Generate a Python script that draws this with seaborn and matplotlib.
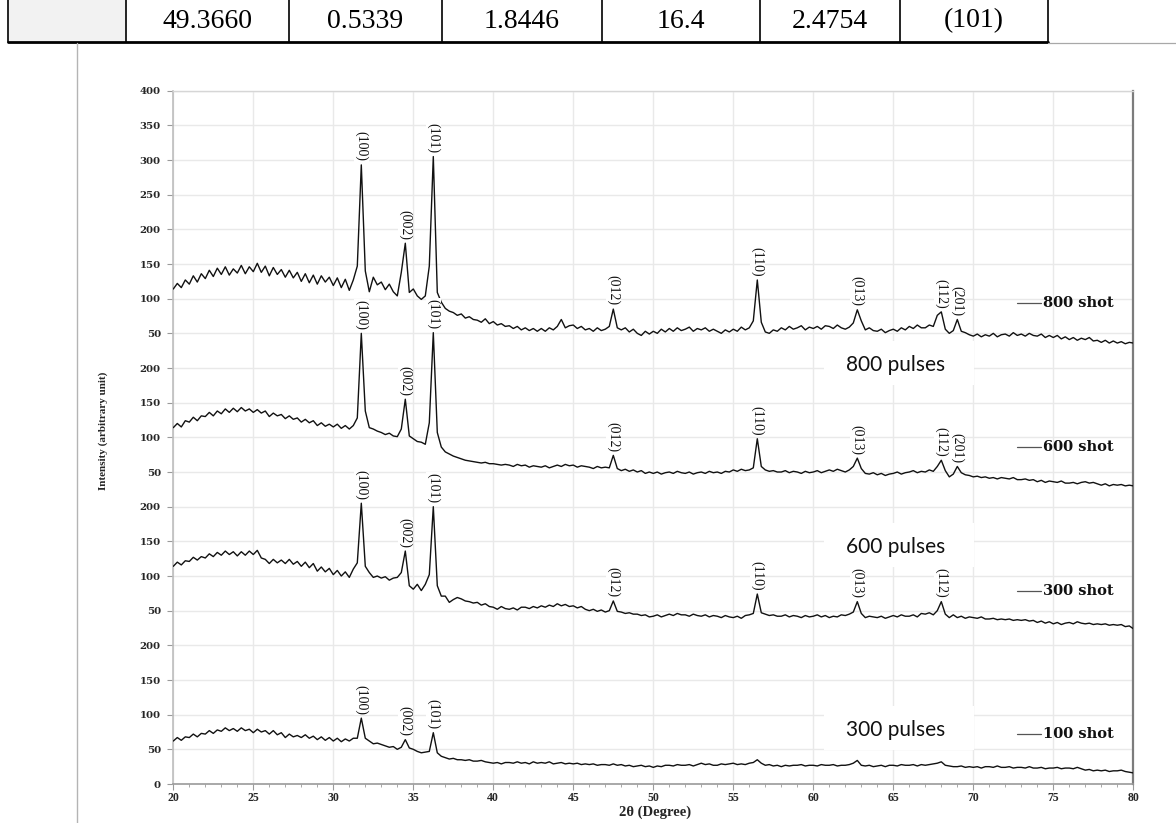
import numpy as np
import pandas as pd
import matplotlib
matplotlib.use("Agg")
import matplotlib.pyplot as plt
import seaborn as sns
from matplotlib.patches import Rectangle
from matplotlib.lines import Line2D

# ---------------------------------------------------------------- data
# 2-theta sampling of the diffractograms (0.25 degree step)
two_theta = np.linspace(20, 80, 241)

# Intensity (arbitrary unit) of each sample, one row per degree (.00 .25 .50 .75)
int_800 = [
    114, 122, 116, 127,  121, 133, 124, 136,  129, 141, 132, 144,  135, 146, 134, 143,
    137, 148, 136, 146,  139, 151, 138, 147,  133, 145, 135, 142,  131, 141, 130, 138,
    125, 136, 123, 134,  121, 133, 124, 131,  119, 130, 116, 128,  112, 127, 147, 293,
    140, 110, 131, 120,  124, 113, 121, 110,  104, 138, 180, 109,  114, 104, 99, 104,
    147, 305, 109, 95,   86, 82, 80, 76,     78, 72, 74, 70,      69, 66, 71, 64,
    67, 62, 64, 60,      61, 57, 60, 55,     58, 54, 57, 53,      57, 53, 58, 55,
    60, 70, 58, 61,      62, 57, 60, 55,     57, 53, 58, 54,      56, 60, 85, 58,
    55, 58, 52, 56,      50, 47, 53, 49,     53, 50, 56, 52,      57, 53, 58, 54,
    56, 59, 53, 57,      55, 58, 53, 56,     53, 50, 55, 52,      56, 53, 59, 55,
    58, 68, 127, 66,     52, 50, 55, 53,     58, 55, 60, 56,      58, 61, 55, 59,
    57, 60, 56, 61,      60, 57, 62, 58,     56, 59, 65, 84,      68, 55, 58, 54,
    53, 56, 51, 54,      56, 53, 58, 55,     60, 57, 62, 58,      58, 62, 60, 76,
    81, 56, 50, 54,      70, 53, 51, 48,     46, 49, 45, 48,      46, 50, 45, 48,
    49, 46, 51, 47,      49, 46, 50, 47,     46, 49, 44, 47,      44, 47, 42, 45,
    41, 44, 40, 43,      41, 44, 39, 40,     37, 40, 36, 39,      36, 38, 35, 37,
    36,
]

int_600 = [
    114, 120, 115, 124,  122, 129, 124, 131,  130, 136, 131, 138,  134, 141, 136, 142,
    137, 143, 138, 141,  136, 140, 135, 138,  130, 135, 131, 133,  127, 131, 126, 128,
    122, 126, 121, 124,  117, 121, 116, 119,  115, 119, 113, 117,  112, 117, 128, 250,
    138, 114, 112, 109,  107, 104, 106, 102,  101, 112, 155, 102,  98, 94, 93, 90,
    121, 251, 107, 86,   79, 76, 73, 71,     69, 67, 66, 65,      64, 63, 64, 62,
    62, 61, 60, 61,      60, 58, 61, 59,     60, 57, 59, 58,      57, 59, 56, 58,
    60, 58, 61, 59,      60, 57, 59, 58,     57, 55, 58, 56,      57, 56, 74, 55,
    52, 54, 51, 53,      50, 52, 48, 50,     48, 50, 47, 49,      50, 48, 51, 49,
    48, 50, 47, 49,      50, 48, 51, 49,     50, 48, 51, 50,      53, 51, 54, 52,
    53, 56, 98, 58,      53, 51, 52, 50,     50, 52, 49, 51,      50, 48, 51, 49,
    50, 52, 49, 51,      53, 51, 54, 52,     50, 53, 58, 70,      55, 48, 47, 49,
    46, 48, 45, 47,      48, 50, 47, 49,     50, 52, 49, 51,      50, 53, 51, 58,
    67, 52, 43, 47,      58, 49, 46, 45,     43, 44, 42, 43,      41, 42, 40, 42,
    41, 40, 42, 39,      39, 40, 38, 39,     36, 38, 35, 37,      36, 35, 37, 34,
    34, 35, 33, 35,      36, 34, 35, 33,     31, 33, 30, 32,      31, 32, 30, 31,
    30,
]

int_300 = [
    114, 120, 116, 122,  121, 127, 123, 128,  126, 132, 128, 134,  130, 136, 131, 135,
    129, 135, 130, 136,  131, 137, 126, 124,  118, 124, 119, 123,  118, 124, 117, 121,
    114, 120, 112, 118,  107, 113, 106, 111,  102, 108, 100, 106,  98, 110, 119, 205,
    114, 105, 98, 100,   97, 99, 94, 97,     98, 105, 136, 86,     81, 88, 79, 88,
    102, 200, 86, 71,    71, 62, 66, 69,     67, 64, 63, 61,      62, 58, 60, 56,
    55, 52, 56, 53,      52, 54, 51, 55,     55, 53, 56, 54,      57, 55, 58, 56,
    60, 57, 59, 56,      57, 54, 56, 52,     50, 52, 49, 51,      48, 50, 64, 49,
    48, 46, 47, 45,      45, 43, 44, 41,     42, 44, 41, 43,      45, 43, 46, 44,
    44, 42, 45, 43,      42, 44, 41, 43,     42, 40, 43, 41,      40, 42, 39, 43,
    44, 46, 74, 47,      45, 43, 44, 42,     42, 44, 41, 43,      42, 40, 43, 41,
    42, 44, 41, 43,      40, 42, 41, 44,     43, 45, 48, 63,      46, 40, 42, 41,
    40, 42, 39, 41,      43, 41, 44, 42,     42, 44, 41, 46,      45, 47, 44, 50,
    63, 45, 40, 44,      40, 42, 39, 41,     40, 39, 41, 38,      38, 39, 37, 38,
    37, 38, 36, 37,      36, 37, 35, 36,     33, 35, 32, 34,      31, 33, 30, 32,
    33, 31, 34, 32,      31, 32, 30, 31,     30, 31, 29, 30,      29, 30, 27, 28,
    24,
]

int_100 = [
    62, 67, 63, 68,      67, 72, 68, 73,     72, 77, 73, 78,      76, 81, 77, 80,
    76, 81, 77, 79,      74, 79, 75, 77,     72, 77, 71, 74,      67, 72, 68, 70,
    67, 71, 66, 69,      64, 68, 63, 67,     62, 66, 61, 65,      62, 66, 66, 95,
    66, 62, 58, 59,      57, 55, 53, 54,     50, 53, 64, 52,      50, 47, 45, 46,
    47, 74, 45, 40,      38, 36, 37, 35,     35, 34, 35, 33,      33, 34, 32, 31,
    30, 31, 29, 31,      31, 30, 32, 30,     31, 29, 32, 30,      31, 30, 32, 29,
    30, 31, 29, 30,      29, 30, 28, 29,     28, 29, 27, 28,      28, 27, 29, 27,
    28, 26, 27, 25,      26, 27, 25, 26,     24, 26, 25, 27,      27, 26, 28, 27,
    27, 28, 26, 28,      30, 28, 29, 27,     27, 29, 28, 29,      30, 28, 29, 28,
    30, 31, 35, 30,      27, 28, 26, 27,     25, 27, 26, 27,      27, 28, 26, 27,
    27, 26, 28, 27,      27, 28, 26, 27,     27, 28, 30, 34,      27, 26, 27, 25,
    26, 27, 25, 27,      27, 26, 28, 27,     27, 28, 26, 28,      27, 28, 29, 30,
    32, 27, 26, 25,      25, 26, 24, 25,     24, 25, 23, 25,      25, 24, 26, 24,
    24, 25, 23, 24,      24, 23, 25, 23,     23, 24, 22, 23,      23, 24, 22, 23,
    23, 22, 24, 22,      20, 21, 19, 20,     19, 20, 18, 19,      19, 20, 18, 17,
    16,
]

samples = ["800 shot", "600 shot", "300 shot", "100 shot"]
series = {"800 shot": int_800, "600 shot": int_600, "300 shot": int_300, "100 shot": int_100}

# Miller indices and the 2-theta of the reflections marked on each pattern
hkl_full = ["(100)", "(002)", "(101)", "(012)", "(110)", "(013)", "(112)", "(201)"]
hkl_pos_full = [31.75, 34.5, 36.25, 47.5, 56.5, 62.75, 68.0, 69.0]
peak_marks = {
    "800 shot": (hkl_full, hkl_pos_full),
    "600 shot": (hkl_full, hkl_pos_full),
    "300 shot": (hkl_full[:7], hkl_pos_full[:7]),
    "100 shot": (hkl_full[:3], hkl_pos_full[:3]),
}

pulse_labels = ["800 pulses", "600 pulses", "300 pulses"]

ytick_labels = ["0", "50", "100", "150", "200",
                "50", "100", "150", "200",
                "50", "100", "150", "200",
                "50", "100", "150", "200", "250", "300", "350", "400"]

table_cells = ["49.3660", "0.5339", "1.8446", "16.4", "2.4754", "(101)"]

# ---------------------------------------------------------------- layout
W, H = 1176, 823
stack_offset = {"800 shot": 600, "600 shot": 400, "300 shot": 200, "100 shot": 0}


def fx(px):
    return px / W


def fy(py):
    return 1 - py / H


sns.set_theme(style="white")
plt.rcParams["font.family"] = ["Liberation Serif", "DejaVu Serif"]

fig = plt.figure(figsize=(W / 100, H / 100), dpi=100)
fig.patch.set_facecolor("white")

ax_l, ax_r, ax_t, ax_b = 173.3, 1133.3, 90.7, 784.0
ax = fig.add_axes([fx(ax_l), fy(ax_b), fx(ax_r) - fx(ax_l), fy(ax_t) - fy(ax_b)])

frames = []
for s in samples:
    frames.append(pd.DataFrame({
        "two_theta": two_theta,
        "intensity": np.asarray(series[s], dtype=float),
        "sample": s,
    }))
df = pd.concat(frames, ignore_index=True)
df["stacked"] = df["intensity"] + df["sample"].map(stack_offset)

sns.lineplot(data=df, x="two_theta", y="stacked", hue="sample",
             palette={s: "#111111" for s in samples}, estimator=None,
             linewidth=1.0, legend=False, ax=ax, zorder=3)

ax.set_xlim(20, 80)
ax.set_ylim(0, 1000)
ax.set_xlabel("")
ax.set_ylabel("")

# grid and frame
ax.set_xticks(np.arange(20, 81, 5))
ax.set_xticks(np.arange(20, 81, 1), minor=True)
ax.set_yticks(np.arange(0, 1001, 50))
ax.set_yticklabels(ytick_labels)
ax.grid(True, which="major", color="#e9e9e9", linewidth=1.0, zorder=0)
ax.set_axisbelow(True)
for side, col, lw in [("top", "#d6d6d6", 1.0), ("left", "#bdbdbd", 1.2),
                      ("bottom", "#9a9a9a", 1.2), ("right", "#7c7c7c", 1.6)]:
    ax.spines[side].set_visible(True)
    ax.spines[side].set_color(col)
    ax.spines[side].set_linewidth(lw)

ax.tick_params(axis="y", which="major", direction="out", length=4, width=0.8,
               color="#9a9a9a", pad=5, left=True)
ax.tick_params(axis="x", which="major", direction="out", length=4, width=0.8,
               color="#9a9a9a", pad=2, bottom=True)
ax.tick_params(axis="x", which="minor", direction="out", length=2.5, width=0.6,
               color="#9a9a9a", bottom=True)
for lab in ax.get_yticklabels():
    lab.set_fontfamily("DejaVu Serif")
    lab.set_fontweight("bold")
    lab.set_fontsize(7.3)
for lab in ax.get_xticklabels():
    lab.set_fontfamily("Liberation Serif")
    lab.set_fontweight("bold")
    lab.set_fontsize(8.5)

# Miller-index labels above the reflections
for s in samples:
    names, pos = peak_marks[s]
    vals = np.asarray(series[s], dtype=float)
    for name, p in zip(names, pos):
        i = int(np.argmin(np.abs(two_theta - p)))
        ax.annotate(name, xy=(two_theta[i], vals[i] + stack_offset[s]),
                    xytext=(0, 2.5), textcoords="offset points",
                    rotation=270, ha="center", va="bottom",
                    fontsize=10, fontfamily="Liberation Serif", color="#111111",
                    bbox=dict(boxstyle="square,pad=0.05", fc="white", ec="none"),
                    zorder=5)

# axis titles
fig.text(fx(655), fy(812), "2θ (Degree)", ha="center", va="center",
         fontsize=10.5, fontweight="bold", fontfamily="Liberation Serif")
fig.text(fx(103.5), fy(431), "Intensity (arbitrary unit)", ha="center", va="center",
         rotation=90, fontsize=8, fontweight="bold", fontfamily="Liberation Serif")

# series keys on the right
for s, ycen in zip(samples, [303, 447, 591, 734]):
    fig.add_artist(Line2D([fx(1017), fx(1041)], [fy(ycen), fy(ycen)],
                          color="#555555", linewidth=0.9))
    fig.text(fx(1043), fy(ycen), s, ha="left", va="center", fontsize=10.5,
             fontweight="bold", fontfamily="DejaVu Serif", color="#111111")

# pulse captions on white boxes
for txt, ycen in zip(pulse_labels, [365, 547, 730]):
    top, bottom = ycen - 24, ycen + 20
    fig.add_artist(Rectangle((fx(824), fy(bottom)), fx(974) - fx(824), fy(top) - fy(bottom),
                             facecolor="white", edgecolor="none", zorder=6))
    fig.text(fx(896), fy(ycen), txt, ha="center", va="center", fontsize=15,
             fontfamily="Lato", color="#111111", zorder=7)

# table row above the figure
row_bottom = 42
fig.add_artist(Rectangle((fx(9), fy(row_bottom - 1)), fx(126) - fx(9), fy(0) - fy(row_bottom - 1),
                         facecolor="#f2f2f2", edgecolor="none", zorder=1))
for xv in [8, 126, 289, 442, 602, 760, 900, 1048]:
    fig.add_artist(Line2D([fx(xv), fx(xv)], [fy(0), fy(row_bottom)], color="black",
                          linewidth=1.2, zorder=2))
fig.add_artist(Line2D([fx(8), fx(1048)], [fy(row_bottom), fy(row_bottom)], color="black",
                      linewidth=2.0, zorder=2))
fig.add_artist(Line2D([fx(1048), 1.0], [fy(row_bottom + 1), fy(row_bottom + 1)], color="#a8a8a8",
                      linewidth=0.9, zorder=2))
fig.add_artist(Line2D([fx(77), fx(77)], [fy(row_bottom + 1), 0.0], color="#b4b4b4",
                      linewidth=1.0, zorder=2))
cell_edges = [126, 289, 442, 602, 760, 900, 1048]
for txt, a, b in zip(table_cells, cell_edges[:-1], cell_edges[1:]):
    fig.text(fx((a + b) / 2), fy(21), txt, ha="center", va="center", fontsize=20,
             fontfamily="Liberation Serif", color="black")

fig.savefig("out.png", dpi=100, facecolor="white")
